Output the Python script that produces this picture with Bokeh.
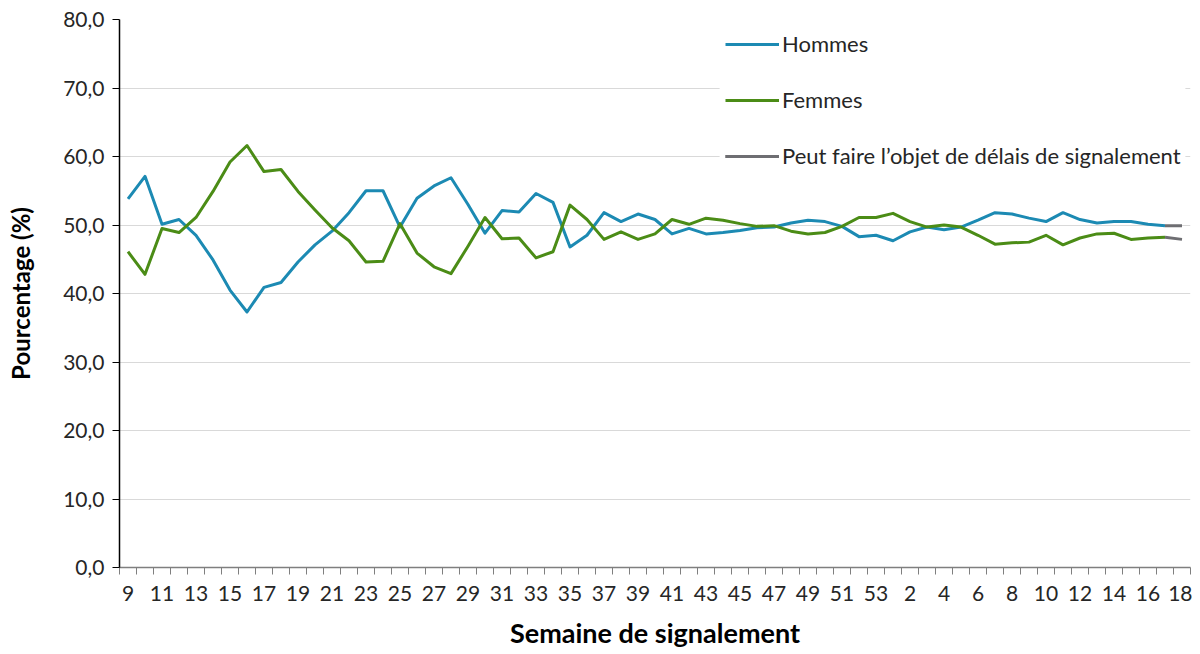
from bokeh.plotting import figure
from bokeh.models import FixedTicker, Legend, LegendItem, Range1d, BoxAnnotation
from bokeh.embed import file_html
from bokeh.resources import INLINE

weeks = [str(w) for w in range(9, 54)] + [str(w) for w in range(1, 19)]
hommes = [53.8, 57.1, 50.1, 50.8, 48.5, 44.9, 40.5, 37.3, 40.9, 41.6, 44.6, 47.1,
          49.1, 51.8, 55.0, 55.0, 49.7, 53.9, 55.7, 56.9, 53.0, 48.8, 52.1, 51.9, 54.6,
          53.3, 46.8, 48.5, 51.8, 50.5, 51.6, 50.8, 48.7, 49.5, 48.7, 48.9, 49.2, 49.6,
          49.7, 50.3, 50.7, 50.5, 49.8, 48.3, 48.5, 47.7, 49.0, 49.7, 49.3, 49.7,
          50.7, 51.8, 51.6, 51.0, 50.5, 51.8, 50.8, 50.3, 50.5, 50.5, 50.1, 49.9, 49.9]
femmes = [46.1, 42.8, 49.5, 48.9, 51.1, 54.9, 59.2, 61.6, 57.8, 58.1, 54.9, 52.2,
          49.6, 47.7, 44.6, 44.7, 50.2, 45.9, 43.9, 42.9, 46.9, 51.1, 48.0, 48.1, 45.2,
          46.1, 52.9, 50.8, 47.9, 49.0, 47.9, 48.7, 50.8, 50.1, 51.0, 50.7, 50.2, 49.8,
          49.9, 49.1, 48.7, 48.9, 49.8, 51.1, 51.1, 51.7, 50.5, 49.7, 50.0, 49.7,
          48.5, 47.2, 47.4, 47.5, 48.5, 47.1, 48.1, 48.7, 48.8, 47.9, 48.1, 48.2, 47.9]
n_delay = 2  # last points subject to reporting delays
y_ticks = [0, 10, 20, 30, 40, 50, 60, 70, 80]
series_names = ["Hommes", "Femmes", "Peut faire l\u2019objet de délais de signalement"]

BLUE = "#1C8AB3"
GREEN = "#4B8C16"
GRAY = "#6E6E72"
FONT = "Lato"

n = len(weeks)
xs = list(range(n))
cut = n - n_delay

p = figure(width=1192, height=653, output_backend="svg", toolbar_location=None,
           x_range=Range1d(-0.5, n - 0.5), y_range=Range1d(0, 80),
           min_border_left=119, min_border_right=2, min_border_top=19,
           min_border_bottom=86, outline_line_color=None)
p.background_fill_color = "white"
p.border_fill_color = "white"

# grid
p.xgrid.grid_line_color = None
p.ygrid.grid_line_color = "#D9D9D9"
p.ygrid.grid_line_width = 1
p.ygrid.ticker = FixedTicker(ticks=y_ticks)

# white box behind legend hiding gridlines
p.add_layout(BoxAnnotation(left=34.8, right=62.2, bottom=56.5, top=81,
                           fill_color="white", fill_alpha=1, line_color=None,
                           level="underlay"))

lw = 3
rh = p.line(xs[:cut + 1], hommes[:cut + 1], line_color=BLUE, line_width=lw, line_join="round")
rf = p.line(xs[:cut + 1], femmes[:cut + 1], line_color=GREEN, line_width=lw, line_join="round")
g1 = p.line(xs[cut:], hommes[cut:], line_color=GRAY, line_width=lw, line_join="round")
g2 = p.line(xs[cut:], femmes[cut:], line_color=GRAY, line_width=lw, line_join="round")

# x axis
xa = p.xaxis[0]
xa.ticker = FixedTicker(ticks=[i for i in xs if i % 2 == 0],
                        minor_ticks=[i - 0.5 for i in range(n + 1)])
xa.major_label_overrides = {i: weeks[i] for i in xs if i % 2 == 0}
xa.major_tick_out = 0
xa.major_tick_in = 0
xa.minor_tick_out = 7
xa.minor_tick_in = 0
xa.minor_tick_line_color = "#7F7F7F"
xa.axis_line_color = "#7F7F7F"
xa.axis_line_width = 1.5
xa.major_label_text_font = FONT
xa.major_label_text_font_size = "21px"
xa.major_label_text_color = "#262626"
xa.major_label_standoff = 11
xa.axis_label = "Semaine de signalement"
xa.axis_label_text_font = FONT
xa.axis_label_text_font_style = "bold"
xa.axis_label_text_font_size = "27px"
xa.axis_label_text_color = "#000000"
xa.axis_label_standoff = 12

# y axis
ya = p.yaxis[0]
ya.ticker = FixedTicker(ticks=y_ticks)
ya.major_label_overrides = {v: f"{v:.1f}".replace(".", ",") for v in y_ticks}
ya.minor_tick_out = 0
ya.minor_tick_in = 0
ya.major_tick_out = 7
ya.major_tick_in = 0
ya.major_tick_line_color = "#000000"
ya.axis_line_color = "#000000"
ya.axis_line_width = 1.5
ya.major_label_text_font = FONT
ya.major_label_text_font_size = "21px"
ya.major_label_text_color = "#262626"
ya.major_label_standoff = 8
ya.axis_label = "Pourcentage (%)"
ya.axis_label_text_font = FONT
ya.axis_label_text_font_style = "bold"
ya.axis_label_text_font_size = "24px"
ya.axis_label_text_color = "#000000"
ya.axis_label_standoff = 25

legend = Legend(items=[LegendItem(label=series_names[0], renderers=[rh]),
                       LegendItem(label=series_names[1], renderers=[rf]),
                       LegendItem(label=series_names[2], renderers=[g1, g2])],
                location=(606, 398))
legend.background_fill_alpha = 0
legend.border_line_color = None
legend.padding = 8
legend.margin = 0
legend.spacing = 29
legend.glyph_width = 54
legend.glyph_height = 26
legend.label_height = 26
legend.label_standoff = 3
legend.label_text_font = FONT
legend.label_text_font_size = "22px"
legend.label_text_color = "#262626"
p.add_layout(legend)

open("out.html", "w").write(file_html(p, INLINE))
